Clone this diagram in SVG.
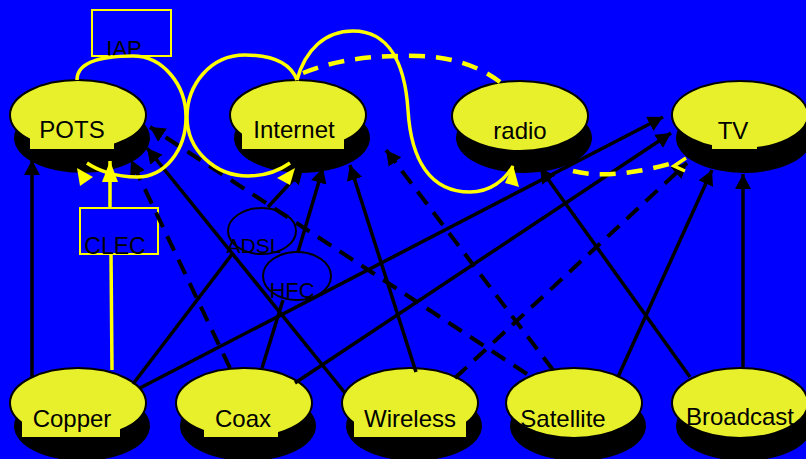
<svg xmlns="http://www.w3.org/2000/svg" width="806" height="459" viewBox="0 0 806 459">
  <defs>
    <style>
      .shadow { fill: #000; }
      .body { fill: #e8f02c; stroke: #000; stroke-width: 2; }
      .tag { fill: #e8f02c; }
      .label { font-family: "Liberation Sans", Arial, sans-serif; font-size: 24px; fill: #000; text-anchor: middle; }
      .small { font-family: "Liberation Sans", Arial, sans-serif; font-size: 22px; fill: #000; text-anchor: middle; }
      .box { fill: none; stroke: #ffff00; stroke-width: 2; }
      .ring { fill: none; stroke: #000; stroke-width: 2; }
      .solid { fill: none; stroke: #000; stroke-width: 3.5; }
      .dash { fill: none; stroke: #000; stroke-width: 4; stroke-dasharray: 16 10; }
      .ysolid { fill: none; stroke: #ffff00; stroke-width: 3.5; }
      .ydash { fill: none; stroke: #ffff00; stroke-width: 4.5; stroke-dasharray: 16 11; }
      .yhead { fill: #ffff00; }
    </style>
    <marker id="arrow" viewBox="0 0 16 16" refX="15" refY="8" markerWidth="16" markerHeight="16" markerUnits="userSpaceOnUse" orient="auto">
      <path d="M0,0 L15,8 L0,16 z" fill="#000"/>
    </marker>
    <marker id="arrowY" viewBox="0 0 22 16" refX="21" refY="8" markerWidth="22" markerHeight="16" markerUnits="userSpaceOnUse" orient="auto">
      <path d="M0,0 L21,8 L0,16 z" fill="#ffff00"/>
    </marker>
  </defs>

  <rect x="0" y="0" width="806" height="459" fill="#0000ff"/>

  <!-- service layer -->
  <g id="pots">
    <ellipse class="shadow" cx="82" cy="138" rx="68" ry="35"/>
    <ellipse class="body" cx="78" cy="115" rx="68" ry="35"/>
    <rect class="tag" x="30" y="118" width="84" height="31"/>
    <text class="label" x="72" y="138">POTS</text>
  </g>
  <g id="internet">
    <ellipse class="shadow" cx="302" cy="138" rx="68" ry="35"/>
    <ellipse class="body" cx="298" cy="115" rx="68" ry="35"/>
    <rect class="tag" x="242" y="118" width="102" height="31"/>
    <text class="label" x="294" y="138">Internet</text>
  </g>
  <g id="radio">
    <ellipse class="shadow" cx="524" cy="138" rx="68" ry="35"/>
    <ellipse class="body" cx="520" cy="116" rx="68" ry="35"/>
    <text class="label" x="520" y="139">radio</text>
  </g>
  <g id="tv">
    <ellipse class="shadow" cx="744" cy="138" rx="68" ry="35"/>
    <ellipse class="body" cx="740" cy="115" rx="68" ry="34"/>
    <rect class="tag" x="712" y="118" width="45" height="31"/>
    <text class="label" x="733" y="139">TV</text>
  </g>

  <!-- transport layer -->
  <g id="copper">
    <ellipse class="shadow" cx="82" cy="426" rx="68" ry="35"/>
    <ellipse class="body" cx="78" cy="403" rx="68" ry="35"/>
    <rect class="tag" x="22" y="408" width="98" height="29"/>
    <text class="label" x="72" y="427">Copper</text>
  </g>
  <g id="coax">
    <ellipse class="shadow" cx="248" cy="426" rx="68" ry="35"/>
    <ellipse class="body" cx="244" cy="403" rx="68" ry="35"/>
    <rect class="tag" x="204" y="408" width="74" height="29"/>
    <text class="label" x="243" y="427">Coax</text>
  </g>
  <g id="wireless">
    <ellipse class="shadow" cx="414" cy="426" rx="68" ry="35"/>
    <ellipse class="body" cx="410" cy="403" rx="68" ry="35"/>
    <rect class="tag" x="354" y="408" width="112" height="29"/>
    <text class="label" x="410" y="427">Wireless</text>
  </g>
  <g id="satellite">
    <ellipse class="shadow" cx="578" cy="426" rx="68" ry="35"/>
    <ellipse class="body" cx="574" cy="403" rx="68" ry="35"/>
    <text class="label" x="563" y="427">Satellite</text>
  </g>
  <g id="broadcast">
    <ellipse class="shadow" cx="744" cy="426" rx="68" ry="35"/>
    <ellipse class="body" cx="740" cy="403" rx="68" ry="35"/>
    <text class="label" x="740" y="425">Broadcast</text>
  </g>

  <!-- providers and access technologies -->
  <g id="iap">
    <rect class="box" x="92" y="10" width="79" height="46"/>
    <text class="small" x="124" y="56" font-size="21">IAP</text>
  </g>
  <g id="clec">
    <rect class="box" x="80" y="208" width="78" height="46"/>
    <text class="small" x="115" y="254" style="font-size:23px">CLEC</text>
  </g>
  <g id="adsl">
    <ellipse class="ring" cx="262" cy="231" rx="34" ry="23"/>
    <text class="small" x="254" y="253" style="font-size:21px">ADSL</text>
  </g>
  <g id="hfc">
    <ellipse class="ring" cx="297" cy="276" rx="34" ry="24"/>
    <text class="small" x="292" y="298">HFC</text>
  </g>

  <g id="connectors">
    <!-- solid links -->
    <path class="solid" d="M32,377 L32,160" marker-end="url(#arrow)"/>
    <path class="solid" d="M133,384 L233,253"/>
    <path class="solid" d="M268,207 L303,169" marker-end="url(#arrow)"/>
    <path class="solid" d="M140,388 L663,117" marker-end="url(#arrow)"/>
    <path class="solid" d="M262,368 L283,300"/>
    <path class="solid" d="M298,252 L323,168" marker-end="url(#arrow)"/>
    <path class="solid" d="M295,383 L671,133" marker-end="url(#arrow)"/>
    <path class="solid" d="M345,393 L147,148" marker-end="url(#arrow)"/>
    <path class="solid" d="M416,372 L350,165" marker-end="url(#arrow)"/>
    <path class="solid" d="M618,377 L712,170" marker-end="url(#arrow)"/>
    <path class="solid" d="M690,377 L540,168" marker-end="url(#arrow)"/>
    <path class="solid" d="M743,368 L743,174" marker-end="url(#arrow)"/>

    <!-- dashed links -->
    <path class="dash" d="M230,368 L131,160" marker-end="url(#arrow)"/>
    <path class="dash" d="M527,374 L150,127" marker-end="url(#arrow)"/>
    <path class="dash" d="M553,370 L386,150" marker-end="url(#arrow)"/>
    <path class="dash" d="M455,378 L687,163" marker-end="url(#arrow)"/>

    <!-- CLEC path -->
    <path class="ysolid" d="M112,370 L111,254"/>
    <path class="ysolid" d="M110,208 L110,161" marker-end="url(#arrowY)"/>

    <!-- IAP loop around POTS -->
    <path class="ysolid" d="M77,80 C77,62 100,56 133,56 C163,56 186,85 186,117 C186,150 165,177 137,177 C115,177 97,170 87,163"/>
    <polygon class="yhead" points="77,168 93,177 80,186"/>

    <!-- loop around Internet -->
    <path class="ysolid" d="M297,80 C290,62 270,55 245,55 C210,55 187,85 187,117 C187,150 215,176 248,176 C265,176 280,170 290,163"/>
    <polygon class="yhead" points="277,178 295,168 290,185"/>

    <!-- Internet to radio -->
    <path class="ysolid" d="M297,80 C305,50 325,31 353,31 C390,31 405,65 408,110 C411,160 430,192 470,192 C490,192 505,180 513,166"/>
    <polygon class="yhead" points="505,183 513,165 519,187"/>

    <!-- dashed yellow links -->
    <path class="ydash" d="M303,73 C340,58 380,55 420,56 C455,57 482,68 500,82"/>
    <path class="ydash" d="M573,171 C600,178 640,173 676,162"/>
    <polyline class="ysolid" points="686,158 674,166 685,171"/>
  </g>
</svg>
